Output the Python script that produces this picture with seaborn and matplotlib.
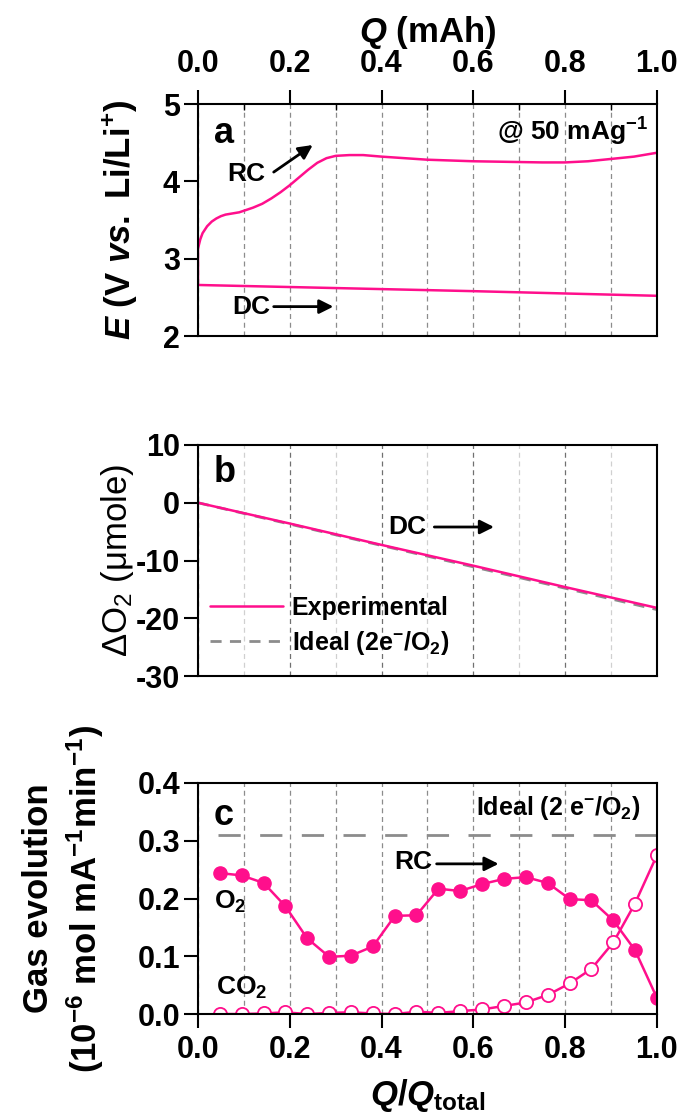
import numpy as np
import pandas as pd
import matplotlib
matplotlib.use("Agg")
import matplotlib.pyplot as plt
import seaborn as sns
from matplotlib.ticker import MultipleLocator, FormatStrFormatter

# panel a: potential profile (Q in mAh)
q_dc = [0.0, 0.3, 0.6, 1.0]
e_dc = [2.66, 2.62, 2.58, 2.52]
q_rc = [0.0, 0.0, 0.005, 0.01, 0.02, 0.03, 0.04, 0.05, 0.06, 0.07, 0.08, 0.09, 0.10,
        0.12, 0.14, 0.16, 0.18, 0.20, 0.22, 0.24, 0.26, 0.28, 0.30, 0.33, 0.36,
        0.40, 0.45, 0.50, 0.55, 0.60, 0.65, 0.70, 0.75, 0.80, 0.85, 0.90, 0.95, 1.0]
e_rc = [2.67, 3.13, 3.25, 3.33, 3.42, 3.48, 3.52, 3.55, 3.57, 3.58, 3.59, 3.60, 3.62,
        3.66, 3.71, 3.78, 3.86, 3.95, 4.05, 4.15, 4.24, 4.30, 4.33, 4.34, 4.34,
        4.32, 4.30, 4.28, 4.27, 4.26, 4.255, 4.25, 4.245, 4.245, 4.26, 4.29, 4.32, 4.37]

# panel b: O2 consumption
q_b = [0.0, 0.2, 0.4, 0.6, 0.8, 1.0]
o2_exp = [0.0, -3.6, -7.3, -10.9, -14.6, -18.2]
o2_ideal = [0.0, -3.7, -7.4, -11.1, -14.8, -18.5]

# panel c: gas evolution during recharge
q_c = [0.048, 0.095, 0.143, 0.190, 0.238, 0.286, 0.333, 0.381, 0.429, 0.476, 0.524,
       0.571, 0.619, 0.667, 0.714, 0.762, 0.810, 0.857, 0.905, 0.952, 1.0]
o2_rate = [0.244, 0.240, 0.227, 0.187, 0.131, 0.099, 0.101, 0.117, 0.170, 0.171, 0.217,
           0.213, 0.225, 0.234, 0.237, 0.227, 0.199, 0.197, 0.162, 0.111, 0.028]
co2_rate = [0.0, 0.0, 0.001, 0.003, 0.0, 0.002, 0.003, 0.001, 0.0, 0.004, 0.002,
            0.005, 0.008, 0.014, 0.020, 0.033, 0.053, 0.078, 0.124, 0.191, 0.275]
ideal_x = [0.044, 1.0]
ideal_rate = [0.31, 0.31]

pink = "#FF0F8C"
gray = "#8C8C8C"

sns.set_theme(style="ticks")
plt.rcParams["font.family"] = ["Liberation Sans", "DejaVu Sans"]
plt.rcParams["font.weight"] = "bold"
plt.rcParams["axes.labelweight"] = "bold"
for k in ("text.color", "axes.labelcolor", "xtick.color", "ytick.color", "axes.edgecolor"):
    plt.rcParams[k] = "black"
plt.rcParams["mathtext.fontset"] = "custom"
plt.rcParams["mathtext.default"] = "regular"
plt.rcParams["mathtext.it"] = "Liberation Sans:italic:bold"
plt.rcParams["mathtext.rm"] = "Liberation Sans:bold"
plt.rcParams["axes.unicode_minus"] = False
plt.rcParams["axes.linewidth"] = 1.5

fig = plt.figure(figsize=(6.86, 11.2), dpi=100)
left, width = 0.2886, 0.669
ax_a = fig.add_axes([left, 0.7000, width, 0.2071])
ax_b = fig.add_axes([left, 0.3964, width, 0.2063])
ax_c = fig.add_axes([left, 0.0946, width, 0.2063])

tick_fs = 22
for ax in (ax_a, ax_b, ax_c):
    ax.set_xlim(0, 1)
    ax.xaxis.set_major_locator(MultipleLocator(0.2))
    ax.xaxis.set_minor_locator(MultipleLocator(0.1))
    ax.tick_params(axis="y", which="major", direction="out", length=10, width=1.5,
                   labelsize=tick_fs, pad=3, left=True, right=False)
    ax.tick_params(axis="x", which="major", direction="out", length=10, width=1.5,
                   labelsize=tick_fs)
    for s in ax.spines.values():
        s.set_linewidth(1.5)
        s.set_color("black")
    ax.set_facecolor("white")

# ---- a
sns.lineplot(x=q_rc, y=e_rc, ax=ax_a, color=pink, lw=1.8, estimator=None, sort=False)
sns.lineplot(x=q_dc, y=e_dc, ax=ax_a, color=pink, lw=1.8, estimator=None, sort=False)
ax_a.set_ylim(2, 5)
ax_a.yaxis.set_major_locator(MultipleLocator(1))
ax_a.xaxis.tick_top()
ax_a.xaxis.set_label_position("top")
ax_a.xaxis.set_major_formatter(FormatStrFormatter("%.1f"))
ax_a.tick_params(axis="x", which="major", top=True, bottom=False, pad=8)
ax_a.tick_params(axis="x", which="minor", direction="in", length=4, width=1,
                 top=True, bottom=False)
ax_a.grid(axis="x", which="both", color=gray, ls=(0, (4, 3)), lw=0.9)
ax_a.set_xlabel(r"$\mathit{Q}$ (mAh)", fontsize=25, fontweight="bold", labelpad=5)
ax_a.set_ylabel(r"$\mathit{E}$ (V $\mathit{vs.}$ Li/Li$^{+}$)", fontsize=25,
                fontweight="bold")
ax_a.yaxis.set_label_coords(-0.128, 0.5)
ax_a.text(0.035, 4.62, "a", fontsize=26, va="center", ha="left")
ax_a.text(0.98, 4.64, "@ 50 mAg$^{-1}$", fontsize=19, va="center", ha="right")
ax_a.text(0.105, 4.1, "RC", fontsize=19, va="center", ha="center")
ax_a.text(0.115, 2.38, "DC", fontsize=19, va="center", ha="center")
arrow = dict(arrowstyle="-|>,head_length=0.7,head_width=0.35", lw=2, color="black",
             shrinkA=0, shrinkB=0)
ax_a.annotate("", xy=(0.25, 4.47), xytext=(0.165, 4.12), arrowprops=arrow)
ax_a.annotate("", xy=(0.295, 2.38), xytext=(0.165, 2.38), arrowprops=arrow)

# ---- b
sns.lineplot(x=q_b, y=o2_ideal, ax=ax_b, color=gray, lw=2, linestyle=(0, (4, 3)),
             estimator=None, label="Ideal (2e$^{-}$/O$_2$)")
sns.lineplot(x=q_b, y=o2_exp, ax=ax_b, color=pink, lw=1.8, estimator=None,
             label="Experimental")
ax_b.set_ylim(-30, 10)
ax_b.yaxis.set_major_locator(MultipleLocator(10))
ax_b.tick_params(axis="x", which="both", length=0, labelbottom=False)
ax_b.grid(axis="x", which="major", color="#707070", ls=(0, (4, 3)), lw=0.9)
ax_b.grid(axis="x", which="minor", color="#D0D0D0", ls=(0, (4, 3)), lw=0.9)
ax_b.set_ylabel("ΔO$_2$ (μmole)", fontsize=25, fontweight="normal")
ax_b.yaxis.set_label_coords(-0.135, 0.5)
ax_b.text(0.035, 5.3, "b", fontsize=26, va="center", ha="left")
ax_b.text(0.457, -4.2, "DC", fontsize=19, va="center", ha="center")
ax_b.annotate("", xy=(0.645, -4.2), xytext=(0.515, -4.2), arrowprops=arrow)
h, l = ax_b.get_legend_handles_labels()
ax_b.legend(h[::-1], l[::-1], loc="upper left", bbox_to_anchor=(0.0, 0.40),
            frameon=False, fontsize=18, handlelength=2.9, handletextpad=0.35,
            labelspacing=0.35, borderaxespad=0.1)

# ---- c
sns.lineplot(x=ideal_x, y=ideal_rate, ax=ax_c, color=gray, lw=2,
             linestyle=(0, (8, 7)), estimator=None)
sns.lineplot(x=q_c, y=co2_rate, ax=ax_c, color=pink, lw=1.8, estimator=None,
             marker="o", markersize=9.5, markerfacecolor="white",
             markeredgecolor=pink, markeredgewidth=1.3)
sns.lineplot(x=q_c, y=o2_rate, ax=ax_c, color=pink, lw=1.8, estimator=None,
             marker="o", markersize=9.5, markerfacecolor=pink,
             markeredgecolor=pink, markeredgewidth=1)
ax_c.set_ylim(0, 0.4)
ax_c.yaxis.set_major_locator(MultipleLocator(0.1))
ax_c.yaxis.set_major_formatter(FormatStrFormatter("%.1f"))
ax_c.xaxis.set_major_formatter(FormatStrFormatter("%.1f"))
ax_c.tick_params(axis="x", which="minor", length=0)
ax_c.tick_params(axis="x", which="major", pad=5)
ax_c.grid(axis="x", which="both", color=gray, ls=(0, (4, 3)), lw=0.9)
ax_c.set_xlabel(r"$\mathit{Q}$/$\mathit{Q}_{total}$", fontsize=25, fontweight="bold",
                labelpad=9)
ax_c.set_ylabel("Gas evolution\n(10$^{-6}$ mol mA$^{-1}$min$^{-1}$)", fontsize=25,
                fontweight="bold", linespacing=1.3)
ax_c.yaxis.set_label_coords(-0.2, 0.5)
ax_c.text(0.035, 0.343, "c", fontsize=26, va="center", ha="left")
ax_c.text(0.965, 0.357, "Ideal (2 e$^{-}$/O$_2$)", fontsize=18, va="center", ha="right")
ax_c.text(0.47, 0.263, "RC", fontsize=19, va="center", ha="center")
ax_c.annotate("", xy=(0.655, 0.26), xytext=(0.52, 0.26), arrowprops=arrow)
ax_c.text(0.035, 0.195, "O$_2$", fontsize=19, va="center", ha="left")
ax_c.text(0.04, 0.045, "CO$_2$", fontsize=19, va="center", ha="left")

fig.savefig("out.png", dpi=100)
